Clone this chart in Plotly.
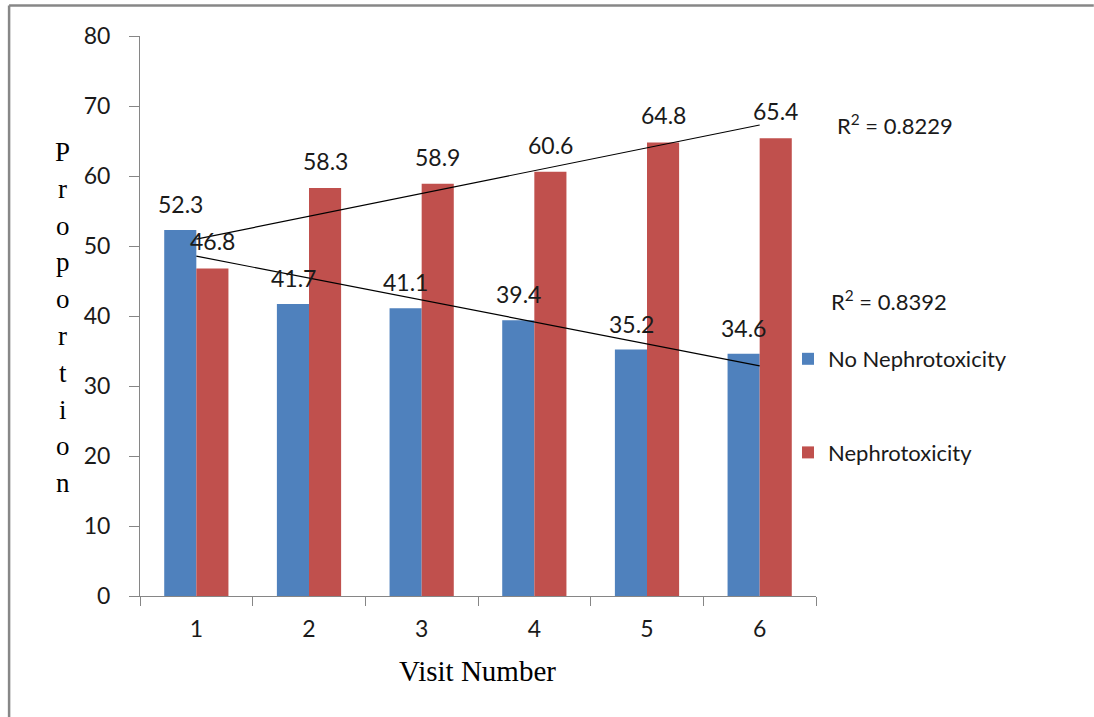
import numpy as np
import plotly.graph_objects as go

# Data
visits = ["1", "2", "3", "4", "5", "6"]
no_nephro = [52.3, 41.7, 41.1, 39.4, 35.2, 34.6]
nephro = [46.8, 58.3, 58.9, 60.6, 64.8, 65.4]
series_names = ["No Nephrotoxicity", "Nephrotoxicity"]
r2_labels = ["R<sup>2</sup> = 0.8229", "R<sup>2</sup> = 0.8392"]
y_title = "Proportion"
x_title = "Visit Number"

BLUE = "#4F81BD"
RED = "#C0504D"
SANS = "Lato, 'Open Sans', sans-serif"
SERIF = "'Liberation Serif', 'Times New Roman', serif"

W, H = 1094, 717
L, R, T, B = 139.5, 816, 36, 596  # plot area in pixels


def px(xp):
    return (xp - L) / (R - L)


def py(yp):
    return (B - yp) / (B - T)


fig = go.Figure()
fig.add_bar(x=visits, y=no_nephro, name=series_names[0], marker_color=BLUE,
            marker_line_width=0, legendgroup="a")
fig.add_bar(x=visits, y=nephro, name=series_names[1], marker_color=RED,
            marker_line_width=0, legendgroup="b")

# Linear trend lines through each series
xnum = np.arange(1, len(visits) + 1)
for vals in (nephro, no_nephro):
    k, c = np.polyfit(xnum, vals, 1)
    fig.add_scatter(x=[visits[0], visits[-1]], y=[k * 1 + c, k * len(visits) + c],
                    mode="lines", line=dict(color="black", width=1.2),
                    showlegend=False, hoverinfo="skip")

annotations = []
# Value labels above bars (category index positions)
for i, v in enumerate(no_nephro):
    annotations.append(dict(x=i, y=v, xref="x", yref="y", text=f"{v}", showarrow=False,
                            xshift=-16, yshift=26, yanchor="middle",
                            font=dict(family=SANS, size=23, color="#1a1a1a")))
for i, v in enumerate(nephro):
    annotations.append(dict(x=i, y=v, xref="x", yref="y", text=f"{v}", showarrow=False,
                            xshift=16, yshift=27, yanchor="middle",
                            font=dict(family=SANS, size=23, color="#1a1a1a")))

# R-squared labels
for lab, (xp, yp) in zip(r2_labels, [(835, 124), (829, 300)]):
    annotations.append(dict(x=px(xp), y=py(yp), xref="paper", yref="paper", text=lab,
                            showarrow=False, xanchor="left", yanchor="middle",
                            font=dict(family=SANS, size=22, color="#1a1a1a")))

# Vertical stacked y-axis title
for i, ch in enumerate(y_title):
    annotations.append(dict(x=px(62), y=py(152 + 36.8 * i), xref="paper", yref="paper",
                            text=ch, showarrow=False, xanchor="center", yanchor="middle",
                            font=dict(family=SERIF, size=27, color="black")))

annotations.append(dict(x=px(477), y=py(671), xref="paper", yref="paper", text=x_title,
                        showarrow=False, xanchor="center", yanchor="middle",
                        font=dict(family=SERIF, size=29, color="black")))

fig.update_layout(
    width=W, height=H,
    margin=dict(l=L, r=W - R, t=T, b=H - B, pad=0),
    paper_bgcolor="white", plot_bgcolor="white",
    barmode="group", bargap=0.43, bargroupgap=0,
    annotations=annotations,
    showlegend=True,
    legend=dict(x=px(788), y=py(338), xanchor="left", yanchor="top",
                font=dict(family=SANS, size=22, color="#1a1a1a"),
                tracegroupgap=62, traceorder="grouped", bgcolor="rgba(0,0,0,0)"),
    shapes=[
        dict(type="line", xref="paper", yref="paper", x0=px(8.5), x1=px(W),
             y0=py(5.5), y1=py(5.5), line=dict(color="#878787", width=2.5)),
        dict(type="line", xref="paper", yref="paper", x0=px(8.5), x1=px(8.5),
             y0=py(5.5), y1=py(H), line=dict(color="#878787", width=2.5)),
    ],
)

fig.update_xaxes(type="category", range=[-0.5, len(visits) - 0.5],
                 showline=True, linecolor="#868686", linewidth=1,
                 ticks="outside", ticklen=9, tickcolor="#868686", tickson="boundaries",
                 showgrid=False, zeroline=False, ticklabelstandoff=12,
                 tickfont=dict(family=SANS, size=23, color="#1a1a1a"))
fig.update_yaxes(range=[0, 80], dtick=10, showline=True, linecolor="#868686", linewidth=1,
                 ticks="outside", ticklen=10, tickcolor="#868686", showgrid=False,
                 zeroline=False, ticklabelstandoff=14,
                 tickfont=dict(family=SANS, size=23, color="#1a1a1a"))

fig.write_html("out.html")
